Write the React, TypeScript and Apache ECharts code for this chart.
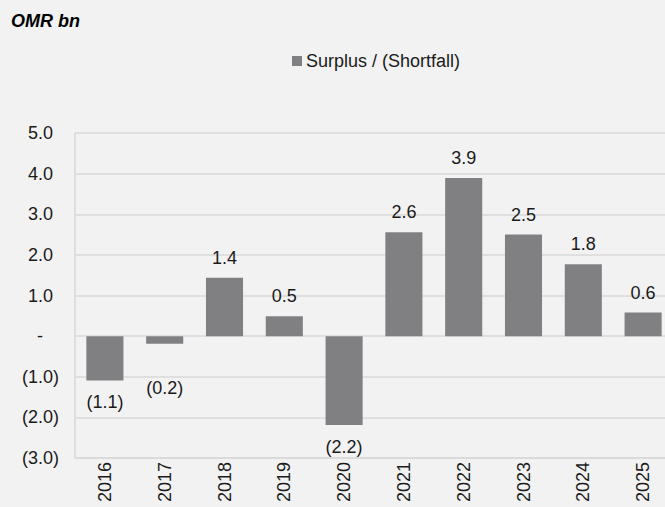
import React, { useEffect, useRef } from "react";
import * as echarts from "echarts";

const years = ["2016", "2017", "2018", "2019", "2020", "2021", "2022", "2023", "2024", "2025"];
const surplus = [-1.09, -0.19, 1.44, 0.49, -2.19, 2.56, 3.89, 2.5, 1.77, 0.58];
const seriesName = "Surplus / (Shortfall)";
const unitTitle = "OMR bn";

const FONT = "Arial, 'Liberation Sans', sans-serif";
const TEXT = "#1a1a1a";
const BAR = "#808083";
const GRID = "#d9d9d9";

const fmt = (v: number) => (v < 0 ? `(${Math.abs(v).toFixed(1)})` : v.toFixed(1));

export default function App() {
  const ref = useRef<HTMLDivElement>(null);
  useEffect(() => {
    if (!ref.current) return;
    const chart = echarts.init(ref.current, undefined, { renderer: "svg" });
    const data = surplus.map((v, i) => ({
      value: v,
      label: {
        position: v < 0 ? "bottom" : "top",
        distance: v < 0 ? (i === 1 ? 35 : 13) : 11,
      },
    }));
    chart.setOption({
      animation: false,
      backgroundColor: "#f2f2f2",
      textStyle: { fontFamily: FONT },
      title: {
        text: unitTitle,
        left: 11,
        top: 12,
        padding: 0,
        textStyle: { fontFamily: FONT, fontSize: 18, fontWeight: "bold", fontStyle: "italic", color: "#000" },
      },
      legend: {
        data: [seriesName],
        left: 292,
        top: 52,
        padding: 0,
        itemWidth: 10,
        itemHeight: 10,
        itemGap: 4,
        icon: "rect",
        textStyle: { fontFamily: FONT, fontSize: 18, color: TEXT, padding: [0, 0, 0, -1] },
      },
      grid: { left: 75, top: 133, width: 598, height: 325, containLabel: false, outerBoundsMode: "none" },
      xAxis: {
        type: "category",
        data: years,
        axisLine: { show: true, onZero: false, lineStyle: { color: GRID, width: 1.5 } },
        axisTick: { show: false },
        axisLabel: { rotate: 90, margin: 4, fontSize: 18, color: TEXT, fontFamily: FONT },
      },
      yAxis: {
        type: "value",
        min: -3,
        max: 5,
        interval: 1,
        axisLine: { show: true, lineStyle: { color: GRID, width: 1.5 } },
        axisTick: { show: false },
        splitLine: { show: true, lineStyle: { color: GRID, width: 1.5 } },
        axisLabel: {
          margin: 22,
          fontSize: 18,
          color: TEXT,
          fontFamily: FONT,
          formatter: (v: number) => (v === 0 ? "{z|-}" : v < 0 ? `{n|${fmt(v)}}` : `{p|${fmt(v)}}`),
          rich: {
            z: { fontSize: 18, color: TEXT, fontFamily: FONT, padding: [0, 10, 0, 0] },
            n: { fontSize: 18, color: TEXT, fontFamily: FONT, padding: [0, -6, 0, 0] },
            p: { fontSize: 18, color: TEXT, fontFamily: FONT },
          },
        },
      },
      series: [
        {
          name: seriesName,
          type: "bar",
          data,
          barWidth: "62%",
          itemStyle: { color: BAR },
          label: {
            show: true,
            fontSize: 18,
            color: TEXT,
            fontFamily: FONT,
            formatter: (p: any) => fmt(p.value),
          },
        },
      ],
    });
    return () => chart.dispose();
  }, []);
  return <div ref={ref} style={{ position: "fixed", left: 0, top: 0, width: 665, height: 507 }} />;
}
